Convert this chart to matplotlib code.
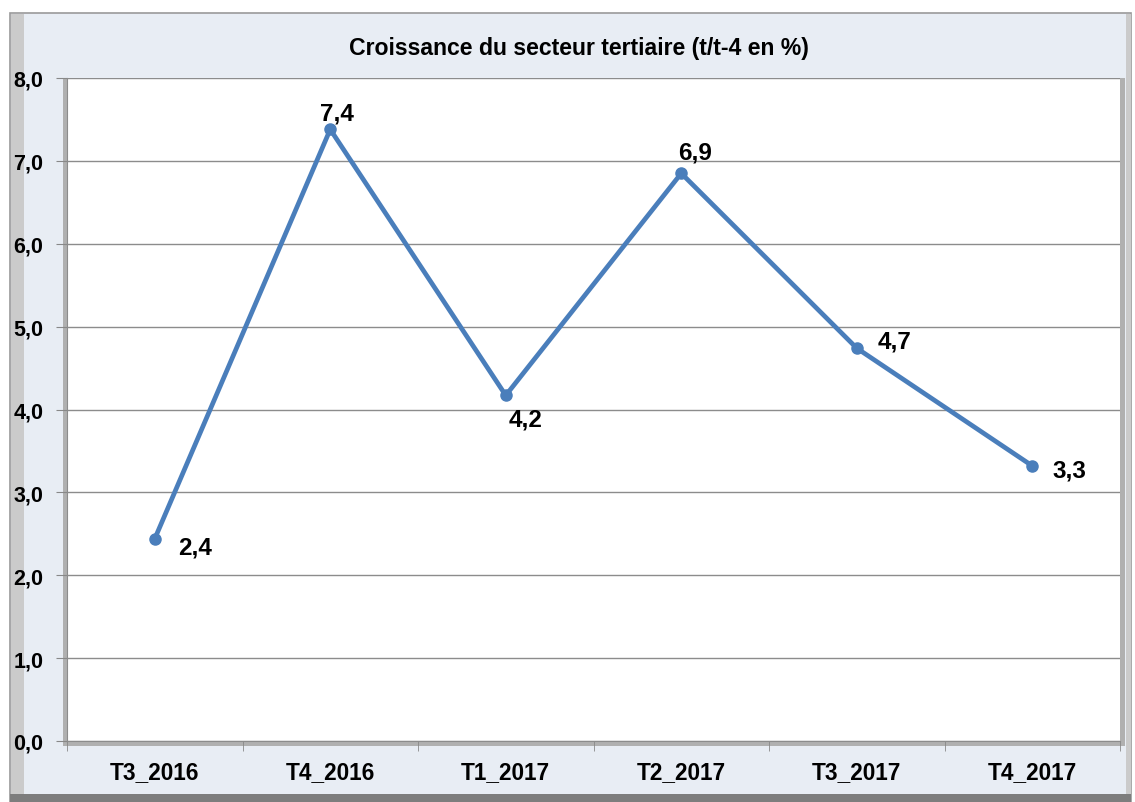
import matplotlib
matplotlib.use("Agg")
import matplotlib.pyplot as plt
import matplotlib.patches as mpatches

# data
categories = ["T3_2016", "T4_2016", "T1_2017", "T2_2017", "T3_2017", "T4_2017"]
values = [2.44, 7.38, 4.17, 6.85, 4.74, 3.32]
labels = ["2,4", "7,4", "4,2", "6,9", "4,7", "3,3"]
y_ticks = [0, 1, 2, 3, 4, 5, 6, 7, 8]
y_ticklabels = ["0,0", "1,0", "2,0", "3,0", "4,0", "5,0", "6,0", "7,0", "8,0"]

plt.rcParams['font.family'] = ['Liberation Sans', 'DejaVu Sans']

fig = plt.figure(figsize=(11.35, 8.03), dpi=100)
fig.patch.set_facecolor("white")

W, H = 1135, 803

def px(x0, y0, x1, y1):
    # pixel box (top-left origin) -> figure fraction rect
    return (x0 / W, 1 - y1 / H), (x1 - x0) / W, (y1 - y0) / H

def box(x0, y0, x1, y1, fc, ec="none", lw=0, z=0.5):
    xy, w, h = px(x0, y0, x1, y1)
    fig.patches.append(mpatches.Rectangle(xy, w, h, transform=fig.transFigure,
                                          facecolor=fc, edgecolor=ec, linewidth=lw, zorder=z))

# outer frame with light dotted-blue look
box(10, 14, 1131, 803, "#e8edf4", "#9a9a9a", 1.2, 0)
box(11, 15, 24, 795, "#cbcbcb")        # left bevel
box(1126, 15, 1131, 795, "#cbcbcb")    # right bevel
box(10, 795, 1131, 803, "#7d7d7d")     # bottom band
# plot-area shadow
box(63, 79, 1125, 747, "#b0b0b0", z=0.8)

ax = fig.add_axes([67 / W, 1 - 742 / H, (1120 - 67) / W, (742 - 79) / H])
ax.set_facecolor("white")
ax.set_zorder(1)

x = list(range(len(categories)))
ax.plot(x, values, color="#4a7ebb", linewidth=3.4, marker="o", markersize=8,
        solid_joinstyle="round", zorder=3)

offsets = [(29, -6), (5, 12), (14, -17), (10, 15), (27, 5), (27, -3)]
for xi, v, lab, off in zip(x, values, labels, offsets):
    ax.annotate(lab, (xi, v), xytext=off, textcoords="offset points",
                ha="center", va="center", fontsize=17.5, fontweight="bold", color="black", zorder=4)

ax.set_xlim(-0.5, len(categories) - 0.5)
ax.set_ylim(0, 8)
ax.set_yticks(y_ticks)
ax.set_yticklabels(y_ticklabels, fontsize=15.5, fontweight="bold")
ax.set_xticks(x)
ax.set_xticklabels(categories, fontsize=16.3, fontweight="bold")
ax.tick_params(axis="x", length=0, pad=14)
ax.tick_params(axis="y", length=8, color="#888888", pad=9)
ax.set_xticks([i + 0.5 for i in range(-1, len(categories))], minor=True)
ax.tick_params(axis="x", which="minor", length=7, color="#888888", direction="out")

ax.grid(axis="y", color="#8c8c8c", linewidth=1)
ax.set_axisbelow(True)
for side in ["top", "right"]:
    ax.spines[side].set_visible(False)
ax.spines["left"].set_color("#8c8c8c")
ax.spines["bottom"].set_color("#8c8c8c")

fig.text(579 / W, 1 - 48 / H, "Croissance du secteur tertiaire (t/t-4 en %)",
         ha="center", va="center", fontsize=16.6, fontweight="bold")

fig.savefig("out.png", dpi=100)
